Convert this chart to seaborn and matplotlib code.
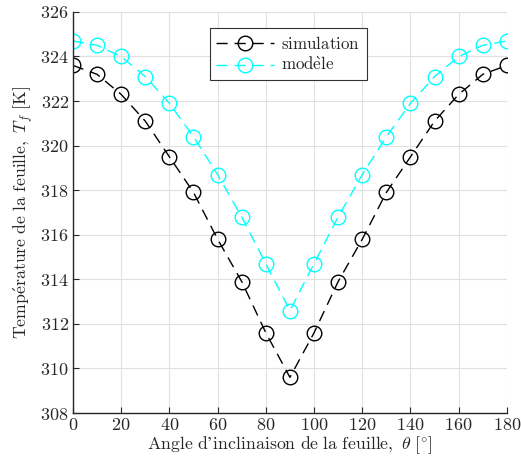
import numpy as np
import pandas as pd
import matplotlib
matplotlib.use("Agg")
import matplotlib.pyplot as plt
from matplotlib.lines import Line2D
import seaborn as sns

# Données
angles = [0, 10, 20, 30, 40, 50, 60, 70, 80, 90,
          100, 110, 120, 130, 140, 150, 160, 170, 180]
t_simulation = [323.6, 323.2, 322.3, 321.1, 319.5, 317.9, 315.8, 313.9, 311.6, 309.6,
                311.6, 313.9, 315.8, 317.9, 319.5, 321.1, 322.3, 323.2, 323.6]
t_modele = [324.7, 324.5, 324.0, 323.1, 321.9, 320.4, 318.7, 316.8, 314.7, 312.6,
            314.7, 316.8, 318.7, 320.4, 321.9, 323.1, 324.0, 324.5, 324.7]
series = ["simulation", "modèle"]
couleurs = ["black", "cyan"]
x_ticks = list(range(0, 181, 20))
y_ticks = list(range(308, 327, 2))

df = pd.DataFrame({
    "angle": angles * 2,
    "T": t_simulation + t_modele,
    "serie": [series[0]] * len(angles) + [series[1]] * len(angles),
})

sns.set_style("ticks")
plt.rcParams["font.family"] = ["cmr10", "Liberation Serif", "DejaVu Serif"]
plt.rcParams["mathtext.fontset"] = "cm"
plt.rcParams["axes.formatter.use_mathtext"] = True
plt.rcParams["font.size"] = 13

fig = plt.figure(figsize=(5.21, 4.68), dpi=100)
ax = fig.add_axes([0.140, 0.1175, 0.833, 0.857])

sns.lineplot(data=df, x="angle", y="T", hue="serie", hue_order=series,
             palette=couleurs, marker="o", markersize=10.5, markerfacecolor="none",
             markeredgewidth=1.0, linewidth=1.0, dashes=False, ax=ax, legend=False)
for line, c in zip(ax.get_lines(), couleurs):
    line.set_linestyle((0, (8, 5)))
    line.set_markeredgecolor(c)

ax.set_xlim(0, 180)
ax.set_ylim(308, 326)
ax.set_xticks(x_ticks)
ax.set_yticks(y_ticks)
ax.grid(True, color="#e0e0e0", linewidth=0.8)
ax.set_axisbelow(True)
for s in ["top", "right"]:
    ax.spines[s].set_visible(False)
for s in ["left", "bottom"]:
    ax.spines[s].set_linewidth(1.0)
ax.tick_params(direction="in", length=4, width=0.8, labelsize=13, pad=3)

# libellés en mathtext (police Computer Modern comme l'original)
ax.set_xlabel(r"$\mathrm{Angle\ d’inclinaison\ de\ la\ feuille,}\ \theta\ [^{\circ}]$",
              fontsize=12.8, labelpad=1)
ax.set_ylabel(r"$\mathrm{Temp\acute{e}rature\ de\ la\ feuille,}\ T_f\ \mathrm{[K]}$",
              fontsize=12.8, labelpad=4)

handles = [Line2D([], [], color=c, linestyle=(0, (8, 5)), linewidth=1.0, marker="o",
                  markersize=10.5, markerfacecolor="none", markeredgecolor=c)
           for c in couleurs]
labels_leg = [r"$\mathrm{simulation}$", r"$\mathrm{mod\grave{e}le}$"]
leg = ax.legend(handles, labels_leg, loc="upper left", bbox_to_anchor=(0.315, 0.96),
                fontsize=12.2, handlelength=3.4, frameon=True, fancybox=False,
                edgecolor="#333333", framealpha=1, borderpad=0.4, labelspacing=0.25,
                handletextpad=0.4, borderaxespad=0)
leg.get_frame().set_linewidth(0.8)

fig.savefig("out.png", dpi=100)
